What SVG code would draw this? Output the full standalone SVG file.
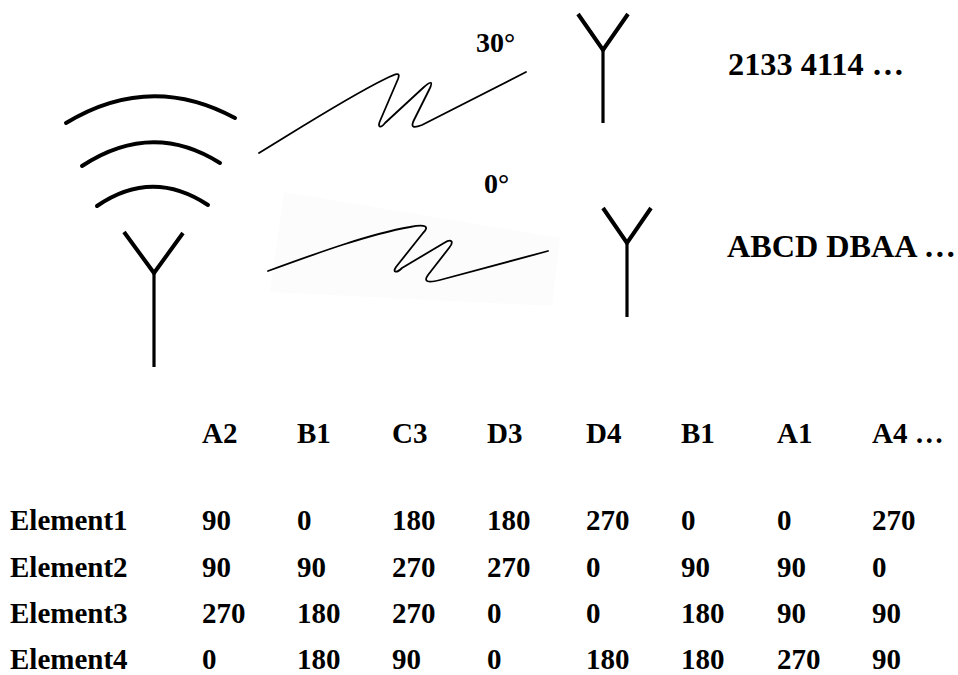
<svg xmlns="http://www.w3.org/2000/svg" width="958" height="675" viewBox="0 0 958 675">
  <style>
    .lbl { font-family: "Liberation Serif", "Times New Roman", serif; font-weight: bold; fill: #000; }
    .t29 { font-size: 29px; }
    .t28 { font-size: 28px; }
    .t31 { font-size: 31px; }
    .ant { fill: none; stroke: #000; stroke-width: 4; stroke-linecap: butt; stroke-linejoin: miter; }
    .stem { fill: none; stroke: #000; stroke-width: 3.2; }
    .arc { fill: none; stroke: #000; stroke-width: 4; stroke-linecap: round; }
    .wave { fill: none; stroke: #000; stroke-width: 1.8; stroke-linejoin: round; stroke-linecap: round; }
  </style>
  <rect width="958" height="675" fill="#fff"/>

  <!-- transmitter with radiating arcs -->
  <g id="transmitter">
    <path class="arc" d="M66,123 Q150,72 235,118"/>
    <path class="arc" d="M82,166 Q152,120 220,163"/>
    <path class="arc" d="M97,206 Q152,168 208,205"/>
    <path class="ant" d="M124,232 L154,273 L183,233"/>
    <path class="stem" d="M154,272 L154,367"/>
  </g>

  <!-- receiver at 30 degrees -->
  <g id="receiver30">
    <path class="ant" d="M578,14 L603,50 L628,14"/>
    <path class="stem" d="M603,49 L603,123"/>
  </g>

  <!-- receiver at 0 degrees -->
  <g id="receiver0">
    <path class="ant" d="M603,208 L627,243 L651,208"/>
    <path class="stem" d="M627,242 L627,317"/>
  </g>

  <!-- signal paths -->
  <g id="links">
    <polygon points="284,192 560,238 552,306 270,292" fill="#fcfcfc"/>
    <path class="wave" d="M259,153 C300,128 350,96 385,79 C395,74 401,71 398,79 L380,121 C377,128 381,128 385,123 L424,87 C432,80 433,82 429,90 L414,120 C410,128 414,128 422,125 L526,72"/>
    <path class="wave" d="M268,271 C320,252 370,234 410,227 C425,224 430,226 423,233 L396,267 C392,273 397,273 402,268 L444,243 C452,238 454,242 449,248 L428,275 C423,282 428,283 440,280 L548,251"/>
  </g>

  <!-- angle labels and received sequences -->
  <g id="labels">
    <text class="lbl t28" x="476" y="52">30°</text>
    <text class="lbl t28" x="484" y="193">0°</text>
    <text class="lbl t31" x="728" y="75" textLength="176" lengthAdjust="spacingAndGlyphs">2133 4114 …</text>
    <text class="lbl t31" x="727" y="257" textLength="229" lengthAdjust="spacingAndGlyphs">ABCD DBAA …</text>
  </g>

  <!-- phase table -->
  <g id="table" class="lbl t29">
    <text y="443"><tspan x="202">A2</tspan><tspan x="297">B1</tspan><tspan x="392">C3</tspan><tspan x="487">D3</tspan><tspan x="586">D4</tspan><tspan x="681">B1</tspan><tspan x="777">A1</tspan><tspan x="872">A4 …</tspan></text>
    <text y="530"><tspan x="10">Element1</tspan><tspan x="202">90</tspan><tspan x="297">0</tspan><tspan x="392">180</tspan><tspan x="487">180</tspan><tspan x="586">270</tspan><tspan x="681">0</tspan><tspan x="777">0</tspan><tspan x="872">270</tspan></text>
    <text y="577"><tspan x="10">Element2</tspan><tspan x="202">90</tspan><tspan x="297">90</tspan><tspan x="392">270</tspan><tspan x="487">270</tspan><tspan x="586">0</tspan><tspan x="681">90</tspan><tspan x="777">90</tspan><tspan x="872">0</tspan></text>
    <text y="623"><tspan x="10">Element3</tspan><tspan x="202">270</tspan><tspan x="297">180</tspan><tspan x="392">270</tspan><tspan x="487">0</tspan><tspan x="586">0</tspan><tspan x="681">180</tspan><tspan x="777">90</tspan><tspan x="872">90</tspan></text>
    <text y="669"><tspan x="10">Element4</tspan><tspan x="202">0</tspan><tspan x="297">180</tspan><tspan x="392">90</tspan><tspan x="487">0</tspan><tspan x="586">180</tspan><tspan x="681">180</tspan><tspan x="777">270</tspan><tspan x="872">90</tspan></text>
  </g>
</svg>
